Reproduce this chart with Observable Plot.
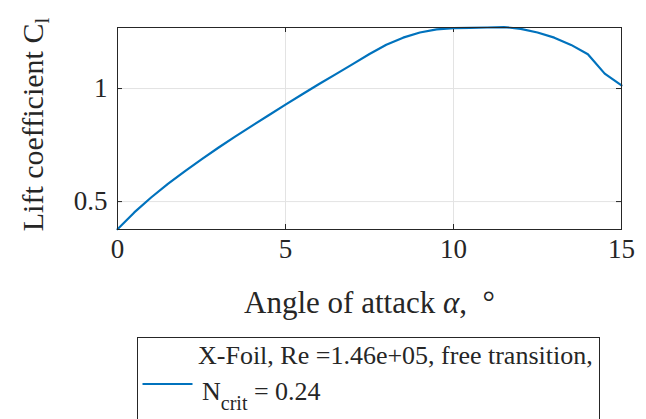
<!DOCTYPE html>
<html>
<head>
<meta charset="utf-8">
<script src="https://cdn.jsdelivr.net/npm/d3@7"></script>
<script src="https://cdn.jsdelivr.net/npm/@observablehq/plot@0.6"></script>
<style>
  body { margin: 0; background: #fff; }
  #chart { position: relative; width: 646px; height: 419px; overflow: hidden; font-family: "Liberation Serif", serif; color: #262626; }
  #chart svg { display: block; }
  .legend { position: absolute; left: 137px; top: 337px; width: 463px; height: 120px; border: 1px solid #262626; box-sizing: border-box; background: #fff; }
  .legend svg { position: absolute; left: 0; top: 0; overflow: visible; }
</style>
</head>
<body>
<div id="chart"></div>
<script>
// Angle of attack (deg) and lift coefficient from the XFoil polar
const alpha = [0, 0.5, 1, 1.5, 2, 2.5, 3, 3.5, 4, 4.5, 5, 5.5, 6, 6.5, 7, 7.5,
               8, 8.5, 9, 9.5, 10, 10.5, 11, 11.5, 12, 12.5, 13, 13.5, 14, 14.5, 15];
const cl = [0.378, 0.452, 0.518, 0.578, 0.634, 0.687, 0.738, 0.787, 0.835, 0.882, 0.929,
            0.975, 1.020, 1.064, 1.108, 1.153, 1.194, 1.225, 1.248, 1.262, 1.267, 1.268,
            1.270, 1.272, 1.264, 1.248, 1.225, 1.193, 1.152, 1.066, 1.014];

const xTicks = [0, 5, 10, 15];
const yTicks = [0.5, 1];
const xDomain = [0, 15];
const yDomain = [0.3765, 1.27];

const xTitle = "Angle of attack α, °";
const yTitle = "Lift coefficient C";
const yTitleSub = "l";
const seriesLabel = "X-Foil, Re =1.46e+05, free transition,";
const seriesParam = ["N", "crit", "= 0.24"];

const lineColor = "#0072BD";
const axisColor = "#262626";
const gridColor = "#e3e3e3";

const W = 646, H = 320;
const mL = 117, mR = 25, mT = 27, mB = 91;
const innerW = W - mL - mR, innerH = H - mT - mB;
const tickLen = 5;

const data = alpha.map((a, i) => ({alpha: a, cl: cl[i]}));

const plot = Plot.plot({
  width: W,
  height: H,
  marginLeft: mL,
  marginRight: mR,
  marginTop: mT,
  marginBottom: mB,
  style: {fontFamily: "'Liberation Serif', serif", fontSize: "27px", color: axisColor, background: "white", overflow: "visible"},
  x: {domain: xDomain, ticks: xTicks, tickSize: 0, tickPadding: 9, label: null},
  y: {domain: yDomain, ticks: yTicks, tickSize: 0, tickPadding: 10, label: null, tickFormat: d => String(d)},
  marks: [
    // grid
    Plot.ruleX(xTicks, {stroke: gridColor}),
    Plot.ruleY(yTicks, {stroke: gridColor}),
    // inward tick marks on all four sides
    Plot.ruleX(xTicks, {stroke: axisColor, insetTop: innerH - tickLen}),
    Plot.ruleX(xTicks, {stroke: axisColor, insetBottom: innerH - tickLen}),
    Plot.ruleY(yTicks, {stroke: axisColor, insetRight: innerW - tickLen}),
    Plot.ruleY(yTicks, {stroke: axisColor, insetLeft: innerW - tickLen}),
    // lift curve
    Plot.line(data, {x: "alpha", y: "cl", stroke: lineColor, strokeWidth: 2.2}),
    Plot.frame({stroke: axisColor}),
    // axis titles
    Plot.text([xTitle], {frameAnchor: "bottom", lineAnchor: "bottom", dy: 83, fontSize: 31, fill: axisColor}),
    Plot.text([yTitle], {frameAnchor: "left", textAnchor: "middle", lineAnchor: "bottom", rotate: -90, dx: -75, dy: -4, fontSize: 30, fill: axisColor})
  ]
});

const root = document.getElementById("chart");
root.appendChild(plot);

// italic alpha in the x title
d3.select(plot).selectAll("text").filter(function() { return this.textContent === xTitle; })
  .each(function() {
    const t = d3.select(this);
    t.text(null);
    t.append("tspan").text("Angle of attack ");
    t.append("tspan").attr("font-style", "italic").text("α");
    t.append("tspan").text(",  °");
  });

// subscript on the y title
d3.select(plot).selectAll("text").filter(function() { return this.textContent === yTitle; })
  .each(function() {
    const t = d3.select(this);
    t.append("tspan").attr("font-size", 21).attr("dy", 6).text(yTitleSub);
  });

// legend box below the axes
const legend = d3.select(root).append("div").attr("class", "legend");
const lsvg = legend.append("svg").attr("width", 463).attr("height", 120)
  .style("font-family", "'Liberation Serif', serif").style("fill", axisColor);
lsvg.append("line").attr("x1", 4.5).attr("x2", 54.5).attr("y1", 46).attr("y2", 46)
  .attr("stroke", lineColor).attr("stroke-width", 2.2);
lsvg.append("text").attr("x", 60).attr("y", 26).attr("font-size", 26).text(seriesLabel);
const t2 = lsvg.append("text").attr("x", 64).attr("y", 62).attr("font-size", 26);
t2.append("tspan").text(seriesParam[0]);
t2.append("tspan").attr("font-size", 20).attr("dy", 10).text(seriesParam[1]);
t2.append("tspan").attr("dy", -10).text(" " + seriesParam[2]);
</script>
</body>
</html>
